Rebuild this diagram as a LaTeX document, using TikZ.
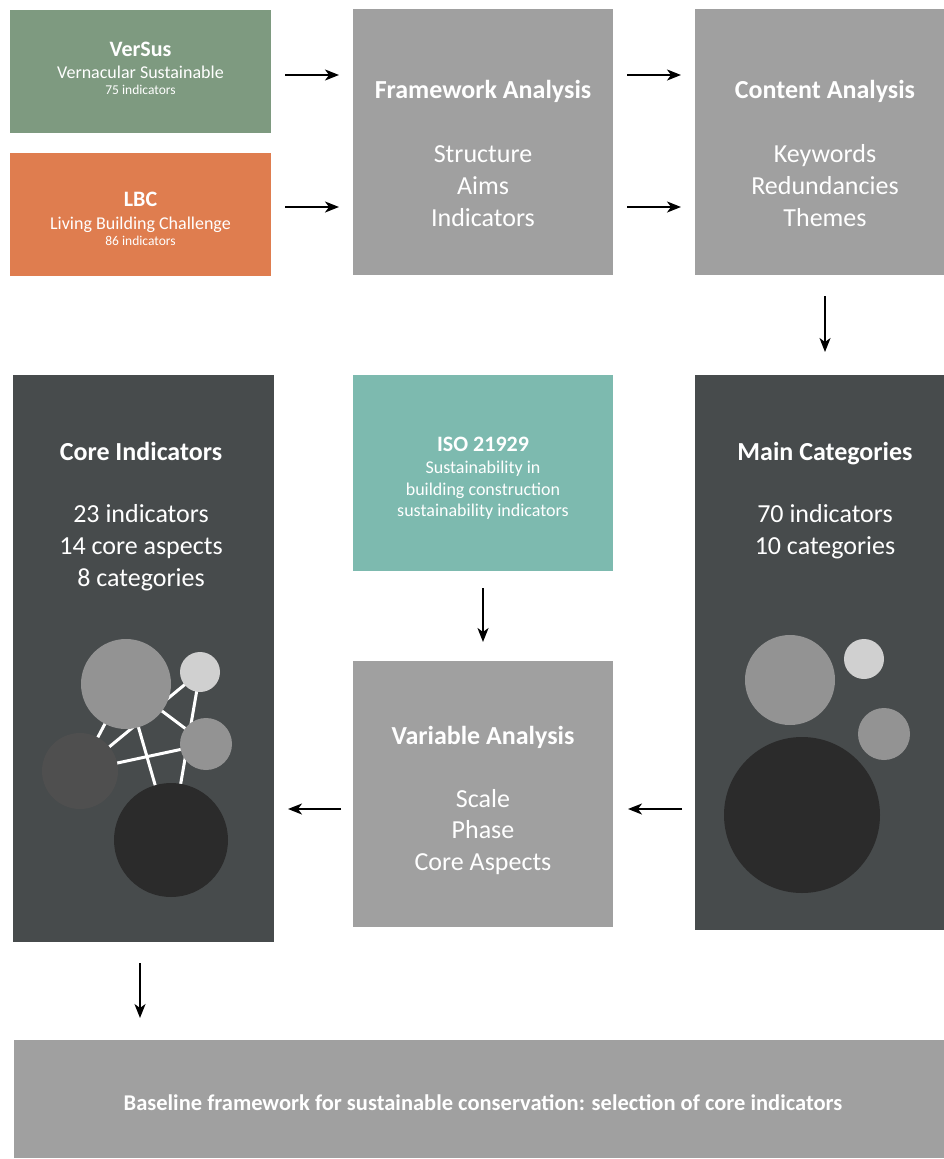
\documentclass[tikz,border=0pt]{standalone}
\usepackage{fontspec}
\setmainfont{Carlito}
\usetikzlibrary{arrows.meta}
\definecolor{versusc}{HTML}{7E9A80}
\definecolor{lbcc}{HTML}{DF7D4F}
\definecolor{grayb}{HTML}{A0A0A0}
\definecolor{darkb}{HTML}{474B4C}
\definecolor{isoc}{HTML}{7DBAAF}
\definecolor{circA}{HTML}{939393}
\definecolor{circB}{HTML}{D0D0D0}
\definecolor{circC}{HTML}{4F4F4F}
\definecolor{circD}{HTML}{2B2B2B}
\tikzset{
  box/.style={rectangle, inner sep=0pt, outer sep=0pt, draw=none},
  arr/.style={-{Stealth[length=14pt,width=11pt,inset=4pt]}, line width=1.6pt, black},
  txt/.style={anchor=base, inner sep=0pt, text=white},
  bigt/.style={txt, font=\bfseries\fontsize{26}{31}\selectfont},
  bodyt/.style={txt, font=\fontsize{26}{31}\selectfont},
  midt/.style={txt, font=\bfseries\fontsize{22}{26}\selectfont},
  subt/.style={txt, font=\fontsize{18}{22}\selectfont},
  smallt/.style={txt, font=\fontsize{13.5}{16}\selectfont},
  dot/.style={circle, inner sep=0pt, outer sep=0pt, draw=none},
  link/.style={white, line width=3pt}
}
\begin{document}
\begin{tikzpicture}[x=1pt,y=-1pt]
\useasboundingbox (0,0) rectangle (944,1159);
\fill[white] (0,0) rectangle (944,1159);
% boxes
\node[box, fill=versusc, minimum width=261pt, minimum height=123pt] (versus) at (140.5,71.5) {};
\node[box, fill=lbcc, minimum width=261pt, minimum height=123pt] (lbc) at (140.5,214.5) {};
\node[box, fill=grayb, minimum width=260pt, minimum height=266pt] (fw) at (483,142) {};
\node[box, fill=grayb, minimum width=249pt, minimum height=266pt] (ca) at (819.5,142) {};
\node[box, fill=darkb, minimum width=261pt, minimum height=567pt] (core) at (143.5,658.5) {};
\node[box, fill=isoc, minimum width=260pt, minimum height=196pt] (iso) at (483,473) {};
\node[box, fill=grayb, minimum width=260pt, minimum height=266pt] (var) at (483,794) {};
\node[box, fill=darkb, minimum width=249pt, minimum height=555pt] (mc) at (819.5,652.5) {};
\node[box, fill=grayb, minimum width=930pt, minimum height=118pt] (base) at (479,1099) {};
% arrows
\draw[arr, shorten <=14pt, shorten >=14pt] (versus.east |- 0,75) -- (fw.west |- 0,75);
\draw[arr, shorten <=14pt, shorten >=14pt] (lbc.east |- 0,207) -- (fw.west |- 0,207);
\draw[arr, shorten <=14pt, shorten >=14pt] (fw.east |- 0,75) -- (ca.west |- 0,75);
\draw[arr, shorten <=14pt, shorten >=14pt] (fw.east |- 0,207) -- (ca.west |- 0,207);
\draw[arr, shorten <=21pt, shorten >=23pt] (ca.south -| 825,0) -- (mc.north -| 825,0);
\draw[arr, shorten <=17pt, shorten >=19pt] (iso.south) -- (var.north);
\draw[arr, shorten <=13pt, shorten >=15pt] (mc.west |- 0,809) -- (var.east |- 0,809);
\draw[arr, shorten <=12pt, shorten >=14pt] (var.west |- 0,809) -- (core.east |- 0,809);
\draw[arr, shorten <=21pt, shorten >=22pt] (core.south -| 140,0) -- (base.north -| 140,0);
% left network
\coordinate (cb) at (126,684);
\coordinate (cs) at (200,672);
\coordinate (cm) at (206,744);
\coordinate (cl) at (80,771);
\coordinate (cd) at (171,840);
\draw[link] (cb) -- (cl);
\draw[link] (cb) -- (cd);
\draw[link] (cb) -- (cm);
\draw[link] (cl) -- (cs);
\draw[link] (cl) -- (cm);
\draw[link] (cs) -- (cd);
\node[dot, fill=circA, minimum size=90pt] (cbn) at (cb) {};
\node[dot, fill=circB, minimum size=40pt] (csn) at (cs) {};
\node[dot, fill=circA, minimum size=52pt] (cmn) at (cm) {};
\node[dot, fill=circC, minimum size=76pt] (cln) at (cl) {};
\node[dot, fill=circD, minimum size=114pt] (cdn) at (cd) {};
% right circles
\node[dot, fill=circA, minimum size=90pt] (rb) at (790,680) {};
\node[dot, fill=circB, minimum size=40pt] (rs) at (864,659) {};
\node[dot, fill=circA, minimum size=52pt] (rm) at (884,734) {};
\node[dot, fill=circD, minimum size=156pt] (rd) at (802,815) {};
% texts
\node[midt] (t1) at (140.5,56.7) {VerSus};
\node[subt] (t2) at (140.5,78.3) {Vernacular Sustainable};
\node[smallt] (t3) at (140.5,94.3) {75 indicators};
\node[midt] (t4) at (140.5,206.7) {LBC};
\node[subt] (t5) at (140.5,229.3) {Living Building Challenge};
\node[smallt] (t6) at (140.5,245) {86 indicators};
\node[bigt] (t7) at (483,98.3) {Framework Analysis};
\node[bodyt] (t8) at (483,162.7) {Structure};
\node[bodyt] (t9) at (483,194.5) {Aims};
\node[bodyt] (t10) at (483,226) {Indicators};
\node[bigt] (t11) at (825,98.3) {Content Analysis};
\node[bodyt] (t12) at (825,162.7) {Keywords};
\node[bodyt] (t13) at (825,194.5) {Redundancies};
\node[bodyt] (t14) at (825,226) {Themes};
\node[bigt] (t15) at (141,460) {Core Indicators};
\node[bodyt] (t16) at (141,522.7) {23 indicators};
\node[bodyt] (t17) at (141,554.3) {14 core aspects};
\node[bodyt] (t18) at (141,586) {8 categories};
\node[midt] (t19) at (483,451.7) {ISO 21929};
\node[subt] (t20) at (483,473.3) {Sustainability in};
\node[subt] (t21) at (483,495) {building construction};
\node[subt] (t22) at (483,516.7) {sustainability indicators};
\node[bigt] (t23) at (483,744) {Variable Analysis};
\node[bodyt] (t24) at (483,807) {Scale};
\node[bodyt] (t25) at (483,838.7) {Phase};
\node[bodyt] (t26) at (483,870.3) {Core Aspects};
\node[bigt] (t27) at (825,460) {Main Categories};
\node[bodyt] (t28) at (825,522.7) {70 indicators};
\node[bodyt] (t29) at (825,554.3) {10 categories};
\node[txt, font=\bfseries\fontsize{22.5}{27}\selectfont] (t30) at (483,1110) {Baseline framework for sustainable conservation: selection of core indicators};
\end{tikzpicture}
\end{document}
